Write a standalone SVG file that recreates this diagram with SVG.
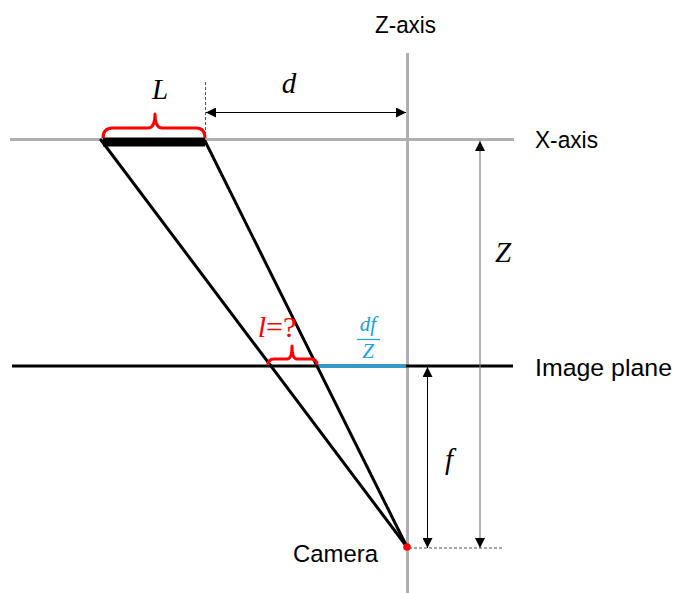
<svg xmlns="http://www.w3.org/2000/svg" width="676" height="593" viewBox="0 0 676 593">
<defs>
<style>
.axis{stroke:#b0b0b0;stroke-width:3;fill:none}
.ray{stroke:#000;stroke-width:3;fill:none;stroke-linecap:round}
.dim{stroke:#000;stroke-width:1;fill:none}
.dimg{stroke:#7f7f7f;stroke-width:1.2;fill:none}
.dash{stroke:#555;stroke-width:1;stroke-dasharray:3,2;fill:none}
.lbl{font-family:"Liberation Sans",Arial,sans-serif;font-size:24.5px;fill:#000}
.math{font-family:"Liberation Serif","DejaVu Serif",serif;font-style:italic;font-size:29px;fill:#000}
.brace{stroke:#ff0000;stroke-width:3;fill:none;stroke-linejoin:round}
</style>
<marker id="ah" viewBox="0 0 10 10" refX="10" refY="5" markerWidth="10" markerHeight="10" markerUnits="userSpaceOnUse" orient="auto-start-reverse">
<path d="M0,0 L10,5 L0,10 z" fill="#000"/>
</marker>
</defs>

<g id="z-axis">
<line class="axis" x1="407.5" y1="53" x2="407.5" y2="593"/>
<text class="lbl" x="375" y="33" textLength="61" lengthAdjust="spacingAndGlyphs">Z-axis</text>
</g>
<g id="x-axis">
<line class="axis" x1="10" y1="139.5" x2="514" y2="139.5"/>
<text class="lbl" x="535" y="148" textLength="63" lengthAdjust="spacingAndGlyphs">X-axis</text>
</g>
<g id="image-plane">
<line x1="12" y1="366" x2="513" y2="366" stroke="#000" stroke-width="3"/>
<line x1="318" y1="366" x2="406" y2="366" stroke="#1ba1e2" stroke-width="3"/>
<text class="lbl" x="535" y="376" textLength="137" lengthAdjust="spacingAndGlyphs">Image plane</text>
</g>
<g id="object">
<rect x="103" y="137.5" width="102" height="9" fill="#000"/>
</g>

<g id="connectors">
<line class="ray" x1="101" y1="140" x2="407" y2="547"/>
<line class="ray" x1="205" y1="141" x2="407" y2="547"/>
<line class="dash" x1="205.5" y1="82" x2="205.5" y2="137"/>
<line class="dash" x1="409" y1="548" x2="502" y2="548"/>
<line class="dim" x1="206" y1="112.5" x2="406" y2="112.5" marker-start="url(#ah)" marker-end="url(#ah)"/>
<line class="dimg" x1="480" y1="141" x2="480" y2="548" marker-start="url(#ah)" marker-end="url(#ah)"/>
<line class="dim" x1="427.5" y1="367" x2="427.5" y2="548" marker-start="url(#ah)" marker-end="url(#ah)"/>
</g>

<g id="brace-L">
<path class="brace" d="M103,138 Q103,128 113,128 L148,128 Q155,128 155,114 Q155,128 162,128 L196,128 Q205,128 205,138"/>
<text class="math" x="160" y="99" text-anchor="middle">L</text>
</g>
<g id="label-d">
<text class="math" x="289" y="93" text-anchor="middle">d</text>
</g>
<g id="label-Z">
<text class="math" x="503" y="262" text-anchor="middle">Z</text>
</g>
<g id="label-f">
<text class="math" x="449" y="469" text-anchor="middle">f</text>
</g>
<g id="brace-l">
<path class="brace" d="M268,365 Q268,359 274,359 L287,359 Q292,359 292,346 Q292,359 297,359 L311,359 Q317,359 317,365"/>
<text x="277" y="337" text-anchor="middle" font-family="Liberation Serif,DejaVu Serif,serif" font-size="30" fill="#ff0000"><tspan font-style="italic">l</tspan>=?</text>
</g>
<g id="label-df-Z" fill="#1ba1e2">
<text x="368" y="331" text-anchor="middle" font-family="Liberation Serif,DejaVu Serif,serif" font-style="italic" font-size="21" fill="#1ba1e2">df</text>
<line x1="357" y1="339.5" x2="380" y2="339.5" stroke="#1ba1e2" stroke-width="1.2"/>
<text x="368" y="358" text-anchor="middle" font-family="Liberation Serif,DejaVu Serif,serif" font-style="italic" font-size="21" fill="#1ba1e2">Z</text>
</g>
<g id="camera">
<circle cx="407" cy="547" r="3.8" fill="#ff0000"/>
<text class="lbl" x="293" y="562" textLength="85" lengthAdjust="spacingAndGlyphs">Camera</text>
</g>
</svg>
